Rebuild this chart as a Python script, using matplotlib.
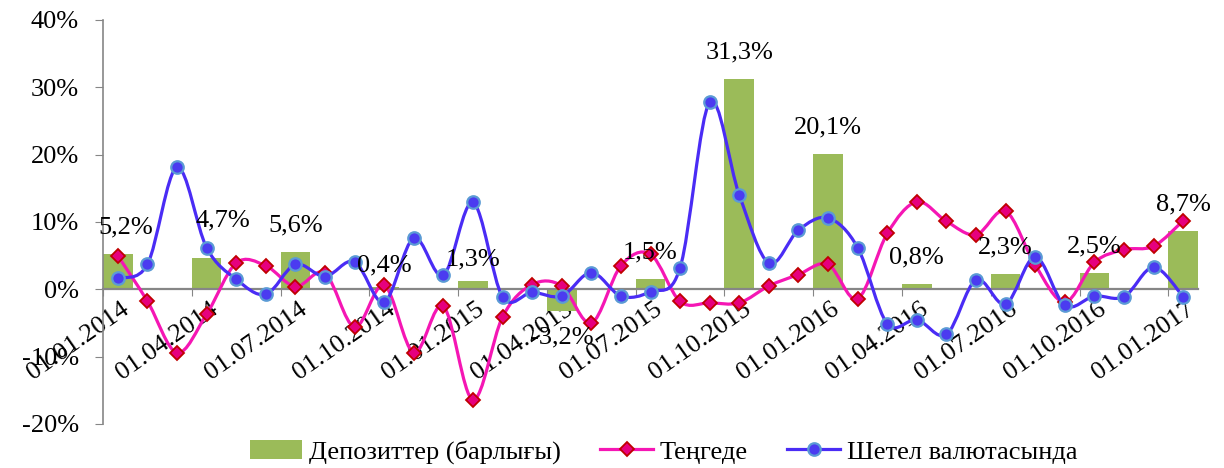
import numpy as np
import matplotlib
matplotlib.use("Agg")
import matplotlib.pyplot as plt
from matplotlib.path import Path
from matplotlib.patches import PathPatch, Patch
from matplotlib.lines import Line2D

plt.rcParams['font.family'] = ['Liberation Serif', 'DejaVu Serif']

# ---- data (growth, %) ----
months = np.arange(37)  # 01.01.2014 .. 01.01.2017, monthly
quarter_labels = ["01.01.2014", "01.04.2014", "01.07.2014", "01.10.2014",
                  "01.01.2015", "01.04.2015", "01.07.2015", "01.10.2015",
                  "01.01.2016", "01.04.2016", "01.07.2016", "01.10.2016",
                  "01.01.2017"]
deposits_total = [5.2, 4.7, 5.6, 0.4, 1.3, -3.2, 1.5, 31.3, 20.1, 0.8, 2.3, 2.5, 8.7]
tenge = [5.0, -1.75, -9.4, -3.7, 3.9, 3.5, 0.4, 2.4, -5.6, 0.6,
         -9.4, -2.5, -16.4, -4.1, 0.7, 0.5, -5.0, 3.5, 5.2, -1.8,
         -2.0, -2.0, 0.5, 2.2, 3.7, -1.4, 8.3, 13.0, 10.1, 8.1,
         11.6, 3.6, -1.9, 4.0, 5.9, 6.4, 10.2]
foreign = [1.7, 3.7, 18.1, 6.2, 1.5, -0.75, 3.7, 1.9, 4.1, -1.9,
           7.6, 2.1, 12.9, -1.1, -0.45, -1.0, 2.5, -1.0, -0.35, 3.2,
           27.8, 14.0, 3.9, 8.8, 10.6, 6.2, -5.1, -4.5, -6.7, 1.4,
           -2.2, 4.8, -2.4, -1.0, -1.1, 3.3, -1.1]
legend_labels = ["Депозиттер (барлығы)", "Теңгеде", "Шетел валютасында"]

bar_color = "#9BBB59"
tenge_line, tenge_face, tenge_edge = "#F516B4", "#E6007E", "#C00000"
foreign_line, foreign_face, foreign_edge = "#4A2CF5", "#4B3BF0", "#5B9BD5"
axis_gray = "#868686"
fs = 19


def smooth_path(x, y):
    # Excel-style smoothed line: cubic Bezier through every point
    pts = np.column_stack([x, y]).astype(float)
    ext = np.vstack([pts[0], pts, pts[-1]])
    verts = [pts[0]]
    codes = [Path.MOVETO]
    for i in range(len(pts) - 1):
        p0, p1, p2, p3 = ext[i], ext[i + 1], ext[i + 2], ext[i + 3]
        verts += [p1 + (p2 - p0) / 6.0, p2 - (p3 - p1) / 6.0, p2]
        codes += [Path.CURVE4] * 3
    return Path(verts, codes)


fig = plt.figure(figsize=(12.24, 4.68), dpi=100)
ax = fig.add_axes([103 / 1224, 44 / 468, 1095 / 1224, 404 / 468])

bar_x = months[::3]
ax.bar(bar_x, deposits_total, width=1.0, color=bar_color, zorder=1)

ax.add_patch(PathPatch(smooth_path(months, tenge), fill=False, edgecolor=tenge_line,
                       lw=2.3, zorder=3, capstyle='round'))
ax.plot(months, tenge, ls='none', marker='D', ms=7, mfc=tenge_face,
        mec=tenge_edge, mew=1.3, zorder=4)
ax.add_patch(PathPatch(smooth_path(months, foreign), fill=False, edgecolor=foreign_line,
                       lw=2.3, zorder=5, capstyle='round'))
ax.plot(months, foreign, ls='none', marker='o', ms=9, mfc=foreign_face,
        mec=foreign_edge, mew=1.6, zorder=6)

# data labels on the bars
nudge = {0: (6, 0), 1: (12, 8), 3: (0, -4), 4: (0, -4)}
for i, (bx, v) in enumerate(zip(bar_x, deposits_total)):
    dx, dy = nudge.get(i, (0, 0))
    off = 19 if v >= 0 else -19
    ax.annotate(f"{v:.1f}%".replace(".", ","), (bx, v), xytext=(dx, off + dy),
                textcoords='offset points', ha='center', va='center',
                fontsize=fs, zorder=7)

# category labels, rotated, ending at the category centre
for bx, lab in zip(bar_x, quarter_labels):
    ax.annotate(lab, (bx, 0), xytext=(2, -6), textcoords='offset points',
                rotation=35, ha='right', va='top', rotation_mode='anchor',
                fontsize=fs, zorder=0, annotation_clip=False)

ax.set_xlim(-0.5, 36.5)
ax.set_ylim(-20, 40)

ax.set_yticks(np.arange(-20, 41, 10))
ax.set_yticklabels([f"{t}%" for t in range(-20, 41, 10)], fontsize=fs)

ax.set_xticks(np.arange(-0.5, 36, 3))
ax.set_xticklabels([])
ax.tick_params(axis='x', length=5, color=axis_gray, direction='out')
ax.tick_params(axis='y', length=5.5, color=axis_gray, direction='out', pad=12)

for s in ['top', 'right']:
    ax.spines[s].set_visible(False)
ax.spines['left'].set_color(axis_gray)
ax.spines['bottom'].set_color(axis_gray)
ax.spines['bottom'].set_position(('data', 0))
ax.spines['left'].set_linewidth(1.2)
ax.spines['bottom'].set_linewidth(1.6)
ax.spines['bottom'].set_zorder(2)

handles = [Patch(facecolor=bar_color),
           Line2D([], [], color=tenge_line, lw=2.3, marker='D', ms=7,
                  mfc=tenge_face, mec=tenge_edge, mew=1.3),
           Line2D([], [], color=foreign_line, lw=2.3, marker='o', ms=9,
                  mfc=foreign_face, mec=foreign_edge, mew=1.6)]
fig.legend(handles, legend_labels, loc='center', bbox_to_anchor=(0.542, 0.034),
           ncol=3, frameon=False, fontsize=fs, handlelength=2.0,
           handletextpad=0.25, columnspacing=1.5)

fig.savefig("out.png", dpi=100)
